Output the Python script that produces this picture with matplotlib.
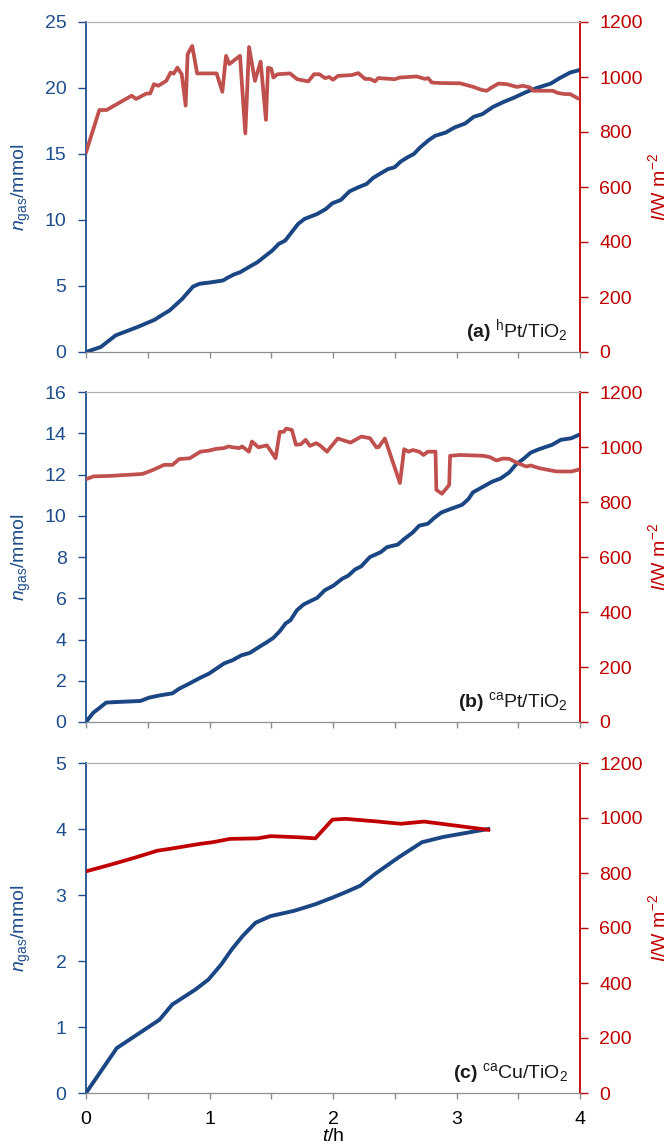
import matplotlib
matplotlib.use('Agg')
from matplotlib import pyplot as plt

plt.rcParams['font.family'] = ['Liberation Sans', 'DejaVu Sans']
plt.rcParams['mathtext.fontset'] = 'custom'
plt.rcParams['mathtext.rm'] = 'Liberation Sans'
plt.rcParams['mathtext.it'] = 'Liberation Sans:italic'
plt.rcParams['mathtext.bf'] = 'Liberation Sans:bold'

BLUE = '#1F4E8C'
LINE_BLUE = '#1A4683'
RED = '#C00000'
RED_A = '#C0504D'

# (a) hPt/TiO2
t_gas_a = [0, 0.12, 0.24, 0.347, 0.43, 0.555, 0.61, 0.677, 0.73, 0.78, 0.815, 0.867, 0.92,
           1.006, 1.11, 1.145, 1.197, 1.25, 1.318, 1.388, 1.457, 1.509, 1.561, 1.613, 1.665,
           1.717, 1.769, 1.873, 1.943, 1.995, 2.064, 2.134, 2.203, 2.272, 2.324, 2.376, 2.446,
           2.498, 2.55, 2.602, 2.654, 2.706, 2.775, 2.827, 2.914, 2.984, 3.07, 3.14, 3.209,
           3.296, 3.383, 3.469, 3.556, 3.643, 3.764, 3.834, 3.92, 4.0]
n_gas_a = [0, 0.38, 1.26, 1.64, 1.94, 2.44, 2.77, 3.15, 3.6, 4.03, 4.41, 4.96, 5.17,
           5.27, 5.42, 5.62, 5.87, 6.05, 6.43, 6.8, 7.31, 7.69, 8.19, 8.44, 9.07,
           9.70, 10.08, 10.46, 10.84, 11.27, 11.52, 12.17, 12.47, 12.73, 13.18, 13.48, 13.86,
           13.99, 14.44, 14.74, 15.0, 15.5, 16.05, 16.38, 16.63, 17.01, 17.31, 17.82, 18.02,
           18.57, 18.95, 19.28, 19.66, 19.98, 20.34, 20.74, 21.17, 21.37]
t_irr_a = [0, 0.108, 0.167, 0.26, 0.37, 0.405, 0.49, 0.52, 0.55, 0.585, 0.65, 0.685, 0.71,
           0.74, 0.775, 0.807, 0.823, 0.86, 0.90, 1.058, 1.104, 1.134, 1.16, 1.247, 1.29,
           1.32, 1.368, 1.414, 1.457, 1.474, 1.50, 1.517, 1.55, 1.652, 1.71, 1.80, 1.846,
           1.89, 1.935, 1.97, 2.0, 2.04, 2.15, 2.205, 2.26, 2.30, 2.34, 2.366, 2.50, 2.54,
           2.677, 2.745, 2.77, 2.80, 2.87, 3.03, 3.136, 3.204, 3.245, 3.285, 3.34, 3.407,
           3.488, 3.54, 3.595, 3.62, 3.78, 3.82, 3.875, 3.92, 3.98]
irr_a = [726, 880, 880, 904, 932, 920, 940, 940, 974, 968, 986, 1016, 1012,
         1034, 1010, 896, 1083, 1113, 1013, 1013, 946, 1077, 1047, 1077, 795,
         1109, 986, 1056, 844, 1034, 1030, 998, 1010, 1013, 992, 984, 1010,
         1010, 996, 1000, 990, 1004, 1007, 1014, 993, 993, 984, 996, 992, 998,
         1002, 993, 996, 980, 978, 977, 964, 953, 950, 962, 976, 974,
         964, 968, 962, 950, 950, 942, 938, 938, 923]

# (b) caPt/TiO2
t_gas_b = [0, 0.059, 0.111, 0.163, 0.25, 0.441, 0.51, 0.597, 0.70, 0.753, 0.823, 0.927,
           0.997, 1.118, 1.188, 1.257, 1.326, 1.413, 1.465, 1.517, 1.569, 1.615, 1.656,
           1.708, 1.76, 1.813, 1.872, 1.934, 2.003, 2.073, 2.125, 2.177, 2.229, 2.299,
           2.385, 2.438, 2.524, 2.576, 2.646, 2.698, 2.767, 2.819, 2.878, 2.948, 3.045,
           3.097, 3.132, 3.219, 3.288, 3.358, 3.427, 3.479, 3.549, 3.601, 3.67, 3.774,
           3.844, 3.931, 3.983]
n_gas_b = [0, 0.45, 0.69, 0.94, 0.97, 1.02, 1.18, 1.29, 1.39, 1.61, 1.82, 2.15,
           2.35, 2.84, 3.0, 3.23, 3.35, 3.68, 3.87, 4.08, 4.40, 4.77, 4.94,
           5.42, 5.69, 5.85, 6.02, 6.39, 6.61, 6.94, 7.10, 7.39, 7.55, 8.0,
           8.23, 8.48, 8.6, 8.87, 9.19, 9.52, 9.61, 9.89, 10.16, 10.32, 10.53,
           10.81, 11.13, 11.42, 11.65, 11.81, 12.10, 12.47, 12.79, 13.06, 13.23, 13.44,
           13.68, 13.76, 13.9]
t_irr_b = [0, 0.06, 0.2, 0.458, 0.545, 0.632, 0.70, 0.754, 0.84, 0.927, 0.997, 1.049,
           1.118, 1.153, 1.19, 1.24, 1.264, 1.319, 1.344, 1.396, 1.465, 1.535, 1.569,
           1.60, 1.621, 1.667, 1.70, 1.74, 1.778, 1.813, 1.865, 1.90, 1.951, 2.038,
           2.142, 2.229, 2.299, 2.351, 2.368, 2.42, 2.542, 2.576, 2.611, 2.646, 2.698,
           2.733, 2.767, 2.83, 2.837, 2.882, 2.941, 2.948, 3.028, 3.219, 3.271, 3.323,
           3.375, 3.427, 3.497, 3.566, 3.60, 3.67, 3.809, 3.931, 3.983]
irr_b = [883, 893, 895, 902, 917, 935, 935, 956, 959, 983, 987, 993,
         996, 1002, 999, 996, 1002, 983, 1020, 999, 1006, 959, 1055,
         1055, 1067, 1062, 1008, 1010, 1026, 1004, 1014, 1004, 983, 1031,
         1016, 1038, 1032, 999, 999, 1031, 869, 992, 983, 989, 983,
         971, 983, 983, 844, 830, 862, 968, 971, 968, 963, 951,
         958, 957, 941, 929, 933, 923, 911, 911, 917]

# (c) caCu/TiO2
t_gas_c = [0, 0.249, 0.595, 0.698, 0.888, 0.992, 1.096, 1.182, 1.269, 1.373, 1.494, 1.684,
           1.857, 1.995, 2.099, 2.22, 2.341, 2.531, 2.721, 2.894, 3.257]
n_gas_c = [0, 0.68, 1.11, 1.34, 1.57, 1.72, 1.95, 2.18, 2.38, 2.58, 2.68, 2.76,
           2.86, 2.96, 3.04, 3.14, 3.32, 3.57, 3.80, 3.88, 4.00]
t_irr_c = [0, 0.197, 0.405, 0.577, 0.681, 0.923, 1.027, 1.165, 1.39, 1.494, 1.718, 1.857,
           1.995, 2.099, 2.341, 2.548, 2.738, 3.257]
irr_c = [806, 830, 857, 881, 888, 906, 912, 924, 926, 934, 930, 926,
         994, 997, 988, 979, 987, 957]

panels = [
    (t_gas_a, n_gas_a, t_irr_a, irr_a, 25, 5, RED_A, '(a)', 'h', 'Pt'),
    (t_gas_b, n_gas_b, t_irr_b, irr_b, 16, 2, RED_A, '(b)', 'ca', 'Pt'),
    (t_gas_c, n_gas_c, t_irr_c, irr_c, 5, 1, RED, '(c)', 'ca', 'Cu'),
]
tops = [22, 392, 763]
h_px = 330
FS = 14

fig = plt.figure(figsize=(6.70, 11.44), dpi=100)
W, H = 670, 1144

for k, (tg, ng, ti, ii, nmax, nstep, rcol, tag, sup, metal) in enumerate(panels):
    top = tops[k]
    ax = fig.add_axes([86 / W, 1 - (top + h_px) / H, 494 / W, h_px / H])
    ax2 = ax.twinx()

    ax.plot(tg, ng, color=LINE_BLUE, lw=2.8, solid_joinstyle='round', zorder=3)
    ax2.plot(ti, ii, color=rcol, lw=2.7, solid_joinstyle='round', zorder=3)

    ax.set_xlim(0, 4)
    ax.set_ylim(0, nmax)
    ax.set_yticks(range(0, nmax + 1, nstep))
    ax2.set_ylim(0, 1200)
    ax2.set_yticks(range(0, 1201, 200))
    ax.set_xticks([0, 1, 2, 3, 4])
    ax.set_xticks([0.5, 1.5, 2.5, 3.5], minor=True)

    for a in (ax, ax2):
        a.spines['top'].set_color('#B0B0B0')
        a.spines['bottom'].set_color('#8C8C8C')
        a.spines['left'].set_visible(a is ax)
        a.spines['right'].set_visible(a is ax2)
    ax.spines['left'].set_color(BLUE)
    ax.spines['left'].set_linewidth(1.3)
    ax2.spines['right'].set_color(RED)
    ax2.spines['right'].set_linewidth(1.3)

    ax.tick_params(axis='y', colors=BLUE, labelsize=FS, length=6, width=1,
                   direction='out', pad=8)
    ax2.tick_params(axis='y', colors=RED, labelsize=FS, length=6, width=1,
                    direction='out', pad=8)
    ax.tick_params(axis='x', which='both', colors='#8C8C8C', length=4, width=1,
                   direction='out', labelsize=FS, labelcolor='black', pad=9)
    if k < 2:
        ax.tick_params(axis='x', labelbottom=False)

    ax.set_ylabel(r'$n_{\mathrm{gas}}$/mmol', color=BLUE, fontsize=FS)
    ax.yaxis.set_label_coords(-0.107, 0.5)
    ax2.set_ylabel(r'$I$/W m$^{-2}$', color=RED, fontsize=FS, rotation=90)
    ax2.yaxis.set_label_coords(1.136, 0.5)

    ax.text(0.976, 0.045,
            r'$\mathbf{' + tag + r'}$ $^{\mathrm{' + sup + r'}}$' + metal + r'/TiO$_2$',
            transform=ax.transAxes, ha='right', va='baseline', fontsize=FS,
            color='#1A1A1A')

    if k == 2:
        ax.set_xlabel(r'$t$/h', fontsize=FS, labelpad=0)

fig.savefig('out.png', dpi=100)
